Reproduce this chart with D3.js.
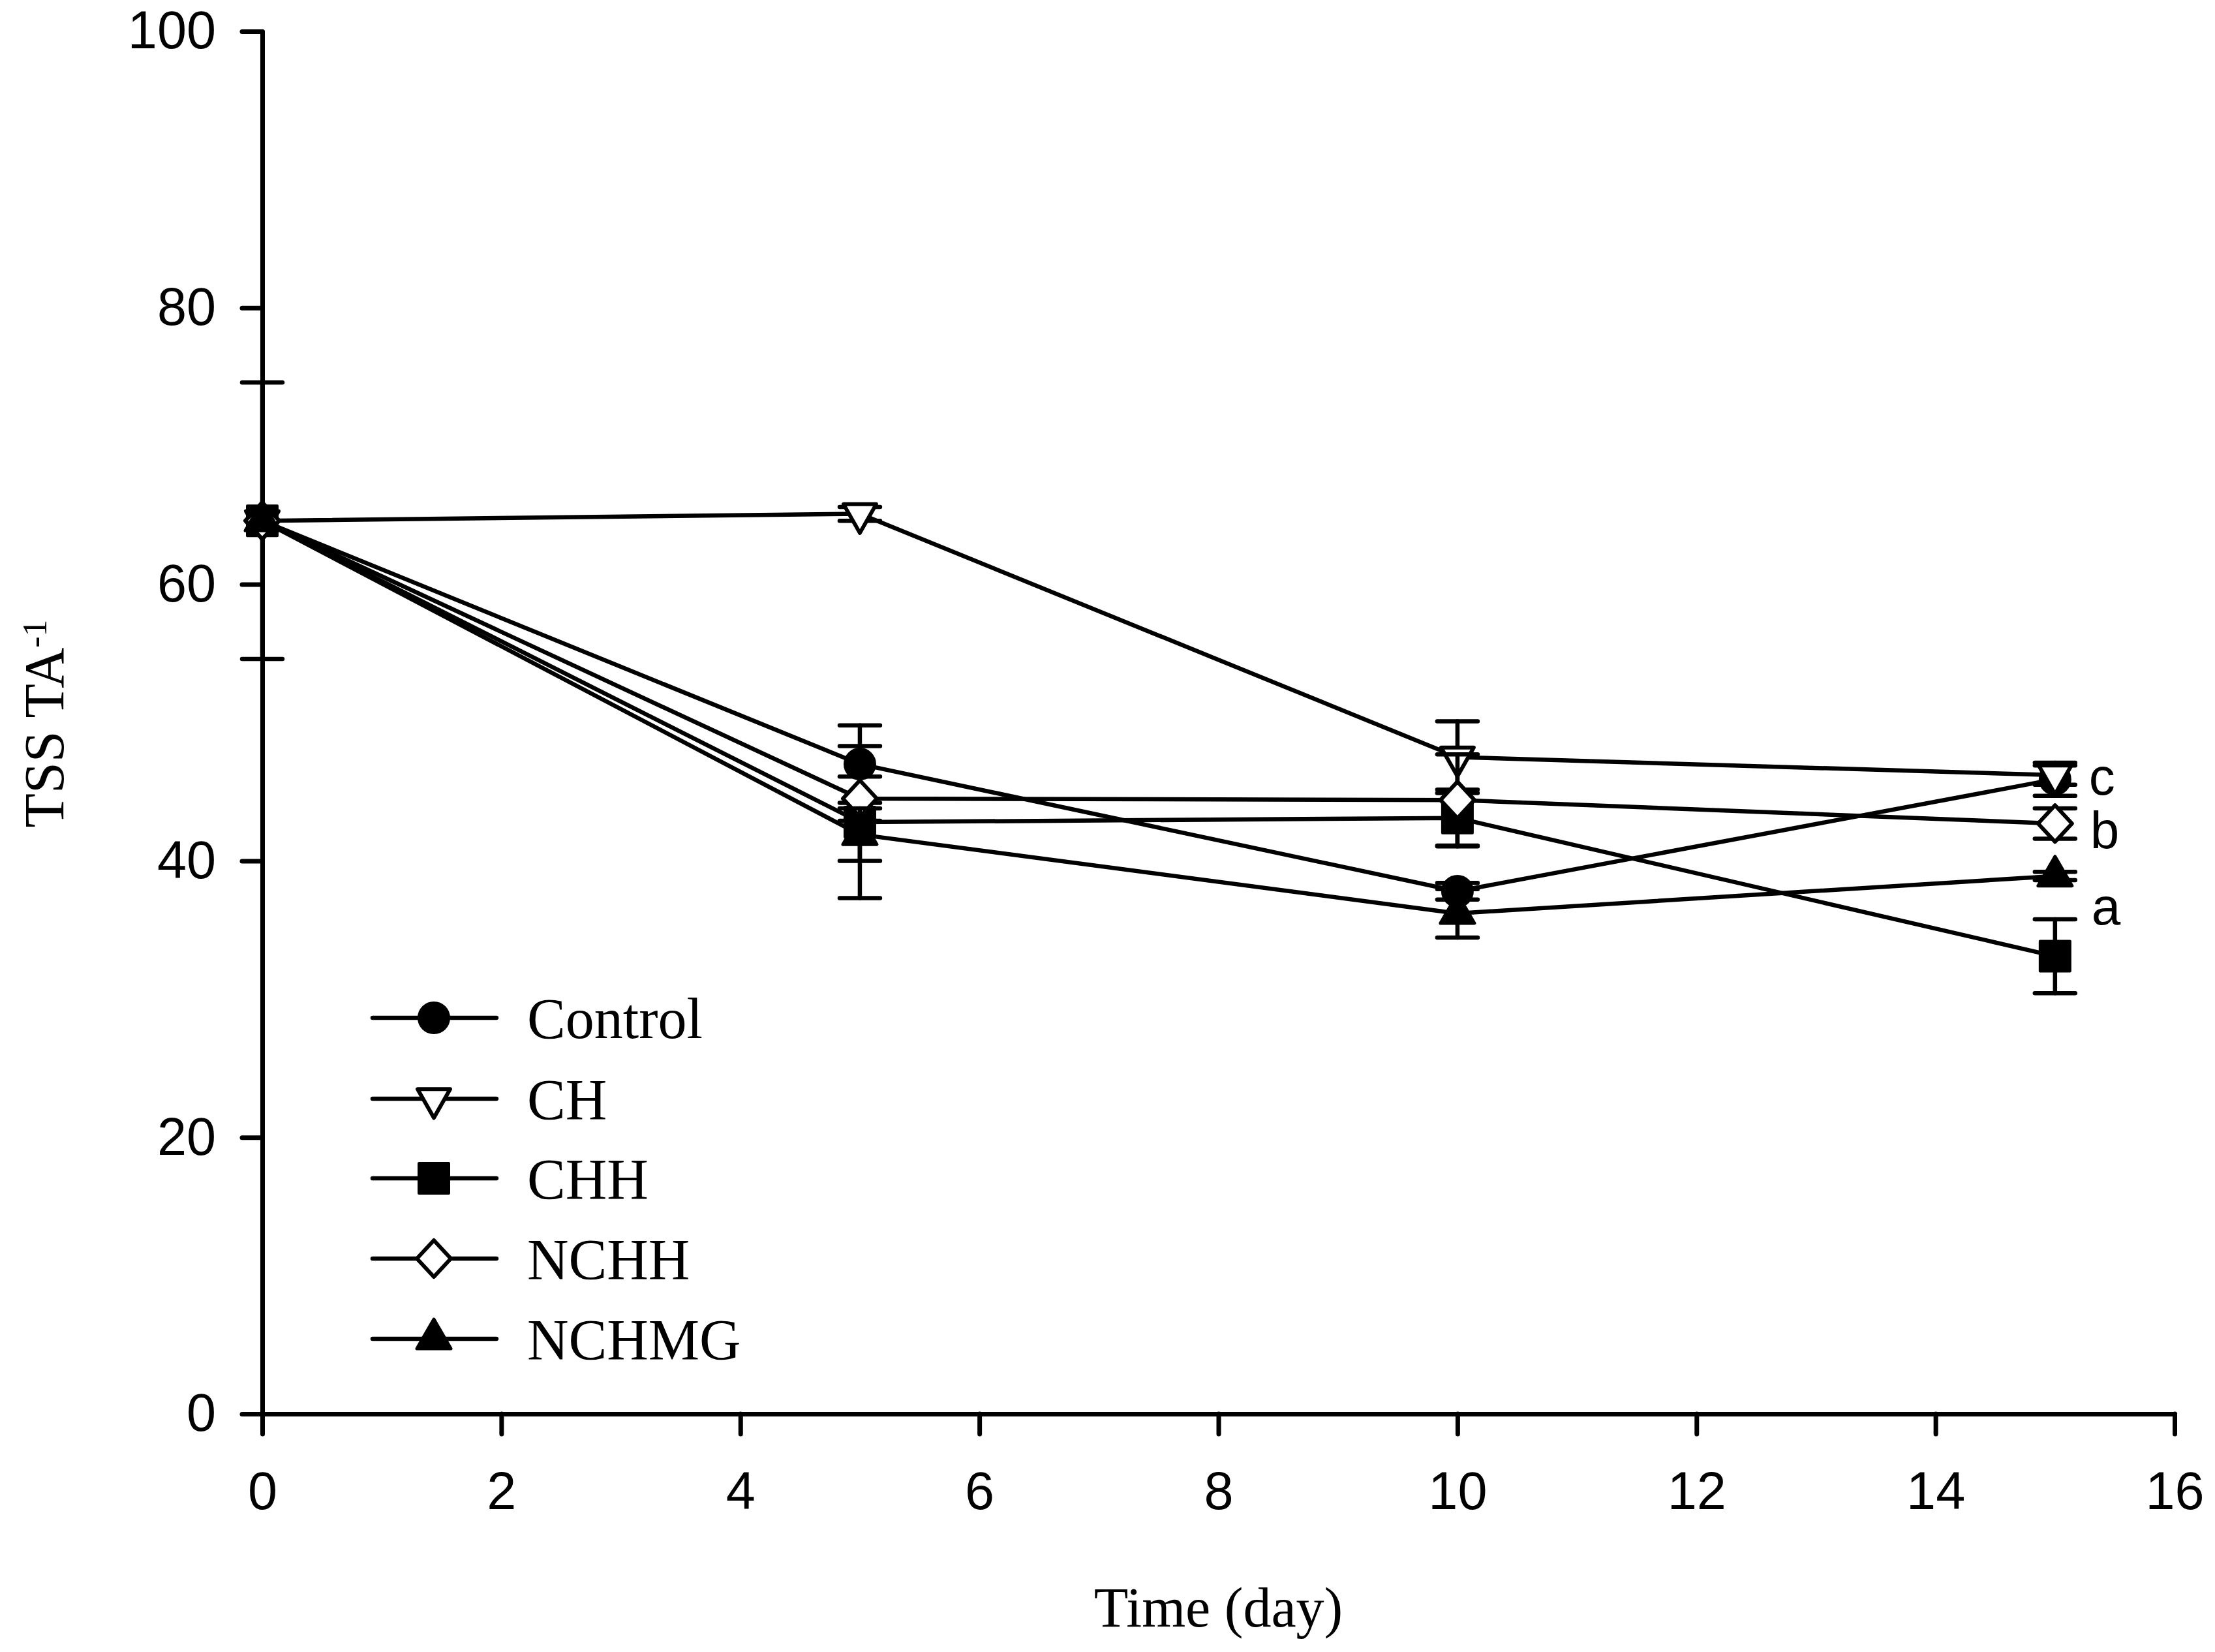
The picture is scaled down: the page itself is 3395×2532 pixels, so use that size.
<!DOCTYPE html>
<html>
<head>
<meta charset="utf-8">
<script src="https://cdn.jsdelivr.net/npm/d3@7"></script>
<style>
  html, body { margin: 0; padding: 0; background: #fff; }
  svg { display: block; }
</style>
</head>
<body>
<svg id="chart" width="3395" height="2532"></svg>
<script>
// ---------------- data ----------------
const days = [0, 5, 10, 15];
const seriesNames = ["Control", "CH", "CHH", "NCHH", "NCHMG"];
const controlVals = [64.6, 47.0, 37.8, 45.9];
const controlErr  = [10.0, 2.8, 0.6, 1.2];
const chVals      = [64.6, 65.1, 47.5, 46.2];
const chErr       = [0, 0.5, 2.6, 0.7];
const chhVals     = [64.6, 42.8, 43.1, 33.1];
const chhErr      = [0, 5.5, 2.05, 2.67];
const nchhVals    = [64.6, 44.5, 44.4, 42.7];
const nchhErr     = [0, 1.6, 3.3, 1.1];
const nchmgVals   = [64.6, 41.9, 36.2, 38.9];
const nchmgErr    = [0, 1.9, 1.75, 0.3];
const xTicks = [0, 2, 4, 6, 8, 10, 12, 14, 16];
const yTicks = [0, 20, 40, 60, 80, 100];
const letters = ["c", "b", "a"];
const letterVals = [44.8, 40.9, 35.4];
const letterDay = 15;

(function () {
// ---------------- layout ----------------
const mLeft = 402, mRight = 3333, mTop = 48, mBottom = 2167;
const x = d3.scaleLinear().domain([0, 16]).range([mLeft, mRight]);
const y = d3.scaleLinear().domain([0, 100]).range([mBottom, mTop]);

const svg = d3.select("#chart");

// symbol types
const diamondType = { draw(ctx, size) { const w = 26, h = 28; ctx.moveTo(0, -h); ctx.lineTo(w, 0); ctx.lineTo(0, h); ctx.lineTo(-w, 0); ctx.closePath(); } };
const squareType  = { draw(ctx, size) { const s = 23; ctx.moveTo(-s, -s); ctx.lineTo(s, -s); ctx.lineTo(s, s); ctx.lineTo(-s, s); ctx.closePath(); } };
const triUpType   = { draw(ctx, size) { const s = 26, h = 45; ctx.moveTo(0, -h * 2 / 3); ctx.lineTo(s, h / 3); ctx.lineTo(-s, h / 3); ctx.closePath(); } };
const triDownType = { draw(ctx, size) { const s = 25, h = 44; ctx.moveTo(-s, -h / 3); ctx.lineTo(s, -h / 3); ctx.lineTo(0, h * 2 / 3); ctx.closePath(); } };

const styles = {
  "Control": { sym: d3.symbol().type(d3.symbolCircle).size(Math.PI * 24 * 24), fill: "#000", sw: 2 },
  "CH":      { sym: d3.symbol().type(triDownType), fill: "#fff", sw: 6 },
  "CHH":     { sym: d3.symbol().type(squareType), fill: "#000", sw: 4 },
  "NCHH":    { sym: d3.symbol().type(diamondType), fill: "#fff", sw: 6 },
  "NCHMG":   { sym: d3.symbol().type(triUpType), fill: "#000", sw: 5 }
};

const allVals = [controlVals, chVals, chhVals, nchhVals, nchmgVals];
const allErr = [controlErr, chErr, chhErr, nchhErr, nchmgErr];
const series = seriesNames.map((name, i) => ({
  name,
  points: days.map((d, j) => ({ day: d, v: allVals[i][j], e: allErr[i][j] }))
}));

// ---------------- axes ----------------
const gx = svg.append("g").attr("transform", `translate(0,${mBottom})`)
  .call(d3.axisBottom(x).tickValues(xTicks).tickSize(31).tickSizeOuter(0).tickPadding(115));
const gy = svg.append("g").attr("transform", `translate(${mLeft},0)`)
  .call(d3.axisLeft(y).tickValues(yTicks).tickSize(31).tickSizeOuter(0).tickPadding(40));
[gx, gy].forEach(g => {
  g.select(".domain").attr("stroke", "#000").attr("stroke-width", 7).attr("stroke-linecap", "round");
  g.selectAll(".tick line").attr("stroke", "#000").attr("stroke-width", 7).attr("stroke-linecap", "round");
  g.selectAll(".tick text").attr("fill", "#000")
    .style("font-family", "'Liberation Sans', Arial, sans-serif").style("font-size", "81px");
});
gx.selectAll(".tick text").attr("dy", "0");

// axis titles
svg.append("text")
  .attr("x", (mLeft + mRight) / 2).attr("y", 2493)
  .attr("text-anchor", "middle")
  .style("font-family", "'Liberation Serif', 'Times New Roman', serif").style("font-size", "86px")
  .text("Time (day)");

const yt = svg.append("text")
  .attr("transform", `translate(97,1109) rotate(-90)`)
  .attr("text-anchor", "middle")
  .style("font-family", "'Liberation Serif', 'Times New Roman', serif").style("font-size", "86px");
yt.append("tspan").text("TSS TA");
yt.append("tspan").attr("dy", "-0.5em").style("font-size", "52px").text("-1");

// ---------------- series ----------------
const line = d3.line().x(p => x(p.day)).y(p => y(p.v));
const plot = svg.append("g");

series.forEach(s => {
  plot.append("path").datum(s.points)
    .attr("d", line).attr("fill", "none").attr("stroke", "#000")
    .attr("stroke-width", 6.5).attr("stroke-linejoin", "round");
});

series.forEach(s => {
  const st = styles[s.name];
  const g = plot.append("g");
  const eb = s.points.filter(p => p.e > 0);
  const ebg = g.selectAll(".eb").data(eb).enter().append("g")
    .attr("stroke", "#000").attr("stroke-width", 6.5).attr("stroke-linecap", "round");
  ebg.append("line").attr("x1", p => x(p.day)).attr("x2", p => x(p.day))
    .attr("y1", p => y(p.v + p.e)).attr("y2", p => y(p.v - p.e));
  ebg.append("line").attr("x1", p => x(p.day) - 31).attr("x2", p => x(p.day) + 31)
    .attr("y1", p => y(p.v + p.e)).attr("y2", p => y(p.v + p.e));
  ebg.append("line").attr("x1", p => x(p.day) - 31).attr("x2", p => x(p.day) + 31)
    .attr("y1", p => y(p.v - p.e)).attr("y2", p => y(p.v - p.e));
  g.selectAll(".m").data(s.points).enter().append("path")
    .attr("d", st.sym)
    .attr("transform", p => `translate(${x(p.day)},${y(p.v)})`)
    .attr("fill", st.fill).attr("stroke", "#000")
    .attr("stroke-width", st.sw).attr("stroke-linejoin", "round");
});

// significance letters
svg.selectAll(".letter").data(letters).enter().append("text")
  .attr("x", (d, i) => x(letterDay) + 52 + i * 2)
  .attr("y", (d, i) => y(letterVals[i]))
  .style("font-family", "'Liberation Sans', Arial, sans-serif").style("font-size", "80px")
  .text(d => d);

// ---------------- legend ----------------
const legRows = [1560, 1684, 1806, 1929, 2052];
const lg = svg.append("g");
seriesNames.forEach((name, i) => {
  const st = styles[name];
  const yy = legRows[i];
  lg.append("line").attr("x1", 571).attr("x2", 761).attr("y1", yy).attr("y2", yy)
    .attr("stroke", "#000").attr("stroke-width", 6.5).attr("stroke-linecap", "round");
  lg.append("path").attr("d", st.sym).attr("transform", `translate(665,${yy})`)
    .attr("fill", st.fill).attr("stroke", "#000").attr("stroke-width", st.sw).attr("stroke-linejoin", "round");
  lg.append("text").attr("x", 808).attr("y", yy + 31)
    .style("font-family", "'Liberation Serif', 'Times New Roman', serif").style("font-size", "88px")
    .text(name);
});
})();
</script>
</body>
</html>
